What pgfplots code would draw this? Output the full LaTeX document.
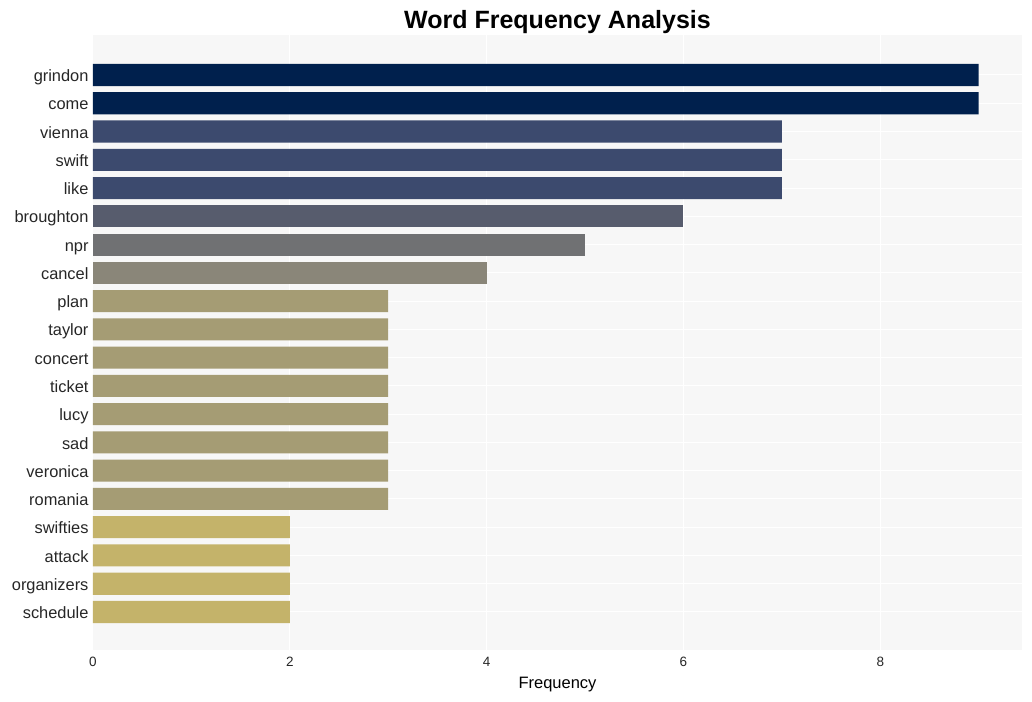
\documentclass[border=0pt]{standalone}
\usepackage{pgfplots}
\pgfplotsset{compat=1.18}
\usepackage{fontspec}
\setmainfont{Liberation Sans}
\definecolor{c1}{HTML}{00204D}
\definecolor{c2}{HTML}{3C4A6E}
\definecolor{c3}{HTML}{575C6D}
\definecolor{c4}{HTML}{707173}
\definecolor{c5}{HTML}{8A8679}
\definecolor{c6}{HTML}{A59C74}
\definecolor{c7}{HTML}{C4B36A}
\definecolor{panel}{HTML}{F7F7F7}
\begin{document}
\begin{tikzpicture}[x=1pt,y=1pt]
\useasboundingbox (0,0) rectangle (1032,701);
\begin{axis}[
  at={(93pt,51pt)}, anchor=south west,
  width=929pt, height=615pt, scale only axis,
  xmin=0, xmax=9.44,
  ymin=-1.415, ymax=20.345, y dir=reverse,
  xbar, bar width=0.78, bar shift=0pt,
  axis background/.style={fill=panel},
  axis line style={draw=none},
  major tick length=0pt,
  xtick={0,2,4,6,8},
  ytick={0,...,19},
  yticklabels={grindon,come,vienna,swift,like,broughton,npr,cancel,plan,taylor,concert,ticket,lucy,sad,veronica,romania,swifties,attack,organizers,schedule},
  xmajorgrids, ymajorgrids,
  grid style={draw=white, line width=1pt},
  tick label style={text=black!85},
  xticklabel style={font=\fontsize{13.5}{15}\selectfont, yshift=-4pt},
  yticklabel style={font=\fontsize{16.4}{18}\selectfont, xshift=-1pt, yshift=-4pt, text height=0.72em, text depth=0.2em},
  xlabel={Frequency},
  xlabel style={font=\fontsize{16.5}{18}\selectfont, yshift=-3.5pt},
  title={\textbf{Word Frequency Analysis}},
  title style={font=\fontsize{25}{28}\selectfont, yshift=-8pt},
  /pgf/number format/assume math mode=true,
  clip=false,
]
\addplot[fill=c1, draw=none] coordinates {(9,0) (9,1)};
\addplot[fill=c2, draw=none] coordinates {(7,2) (7,3) (7,4)};
\addplot[fill=c3, draw=none] coordinates {(6,5)};
\addplot[fill=c4, draw=none] coordinates {(5,6)};
\addplot[fill=c5, draw=none] coordinates {(4,7)};
\addplot[fill=c6, draw=none] coordinates {(3,8) (3,9) (3,10) (3,11) (3,12) (3,13) (3,14) (3,15)};
\addplot[fill=c7, draw=none] coordinates {(2,16) (2,17) (2,18) (2,19)};
\end{axis}
\end{tikzpicture}
\end{document}
